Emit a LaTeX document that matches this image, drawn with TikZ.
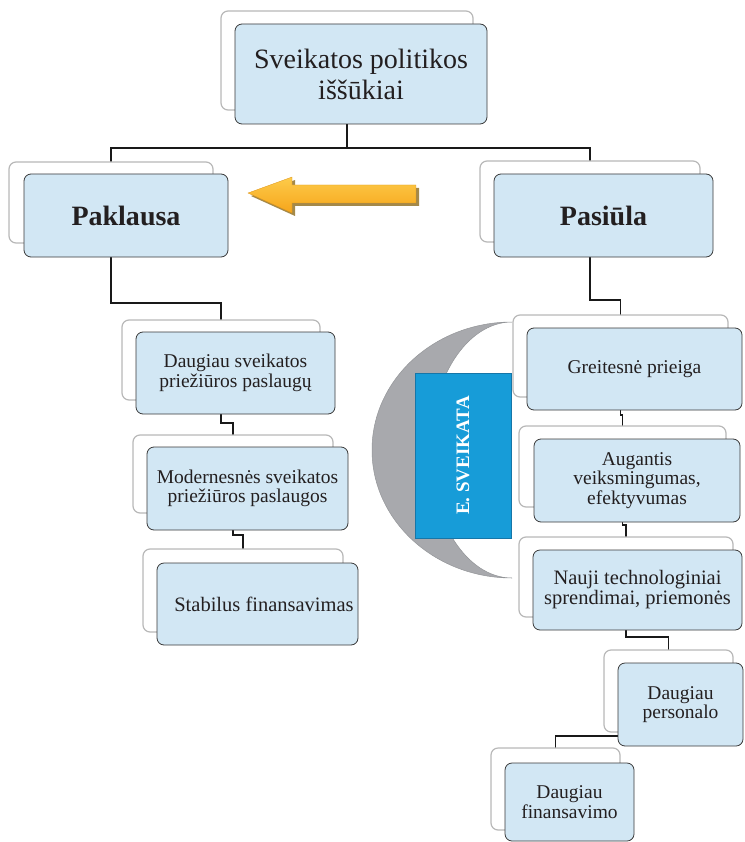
\documentclass[tikz,border=0pt]{standalone}
\usepackage{fontspec}
\setmainfont{Liberation Serif}
\usetikzlibrary{backgrounds}

\definecolor{frontfill}{HTML}{D2E7F4}
\definecolor{frontline}{HTML}{3A3A3A}
\definecolor{backline}{HTML}{B8B8B8}
\definecolor{inkcol}{HTML}{231F20}
\definecolor{crescent}{HTML}{A8A9AD}
\definecolor{crescentline}{HTML}{939598}
\definecolor{ehealth}{HTML}{179CD8}
\definecolor{ehealthline}{HTML}{1676A8}
\definecolor{arrowtop}{HTML}{FDCB4A}
\definecolor{arrowbot}{HTML}{F6A51B}
\definecolor{arrowshadow}{HTML}{94742A}

\tikzset{
  backbox/.style={draw=backline, fill=white, line width=1.2pt, rounded corners=7pt,
    inner sep=0pt, outer sep=0pt},
  frontbox/.style={draw=frontline, fill=frontfill, line width=0.8pt, rounded corners=7pt,
    inner sep=0pt, outer sep=0pt, align=center, text=inkcol,
    font=\fontsize{19.5}{19.5}\selectfont},
  headbox/.style={frontbox, font=\bfseries\fontsize{28}{30}\selectfont},
  conn/.style={draw=black!90, line width=1.3pt},
}

\begin{document}
\begin{tikzpicture}[x=1pt, y=-1pt]
\useasboundingbox (0,0) rectangle (744,842);

% crescent behind the supply column
\filldraw[fill=crescent, draw=crescentline, line width=0.5pt]
  (512,322) arc[start angle=270, end angle=90, x radius=140, y radius=128]
  arc[start angle=90, end angle=270, x radius=82, y radius=128] -- cycle;

% back frames
\node[backbox, minimum width=252pt, minimum height=99pt] (topb) at (347,60.5) {};
\node[backbox, minimum width=204pt, minimum height=81pt] (pakb) at (111,202.5) {};
\node[backbox, minimum width=220pt, minimum height=81pt] (pasb) at (590,201.5) {};
\node[backbox, minimum width=198pt, minimum height=80pt] (c1b) at (221,360) {};
\node[backbox, minimum width=200pt, minimum height=78pt] (c2b) at (233,474) {};
\node[backbox, minimum width=200pt, minimum height=83pt] (c3b) at (243,590.5) {};
\node[backbox, minimum width=215pt, minimum height=82pt] (grb) at (620.5,356) {};
\node[backbox, minimum width=207pt, minimum height=81pt] (aub) at (622.5,466.5) {};
\node[backbox, minimum width=214pt, minimum height=80pt] (nab) at (626,577) {};
\node[backbox, minimum width=129pt, minimum height=82pt] (peb) at (668.5,691) {};
\node[backbox, minimum width=129pt, minimum height=82pt] (fib) at (555.5,789) {};

% front boxes
\node[frontbox, minimum width=252pt, minimum height=100pt,
  font=\fontsize{28}{31}\selectfont] (top) at (361,74) {Sveikatos politikos\\iššūkiai};
\node[headbox, minimum width=204pt, minimum height=83pt] (pak) at (126,215.5) {Paklausa};
\node[headbox, minimum width=219pt, minimum height=83pt] (pas) at (603.5,215.5) {Pasiūla};
\node[frontbox, minimum width=199pt, minimum height=82pt] (c1) at (235.5,373)
  {Daugiau sveikatos\\priežiūros paslaugų};
\node[frontbox, minimum width=201pt, minimum height=83pt] (c2) at (247.5,488.5)
  {Modernesnės sveikatos\\priežiūros paslaugos};
\node[frontbox, minimum width=201pt, minimum height=82pt] (c3) at (257.5,604)
  {\hspace*{13pt}\fontsize{20.5}{20}\selectfont Stabilus finansavimas};
\node[frontbox, minimum width=215pt, minimum height=82pt] (gr) at (634.5,369)
  {Greitesnė prieiga};
\node[frontbox, minimum width=206pt, minimum height=83pt] (au) at (637,480.5)
  {Augantis\\veiksmingumas,\\efektyvumas};
\node[frontbox, minimum width=209pt, minimum height=80pt,
  font=\fontsize{20.5}{20}\selectfont] (na) at (637.5,590)
  {Nauji technologiniai\\sprendimai, priemonės};
\node[frontbox, minimum width=125pt, minimum height=83pt] (pe) at (680.5,704.5)
  {Daugiau\\personalo};
\node[frontbox, minimum width=129pt, minimum height=78pt] (fi) at (569.5,802)
  {Daugiau\\finansavimo};

% e-health label
\node[draw=ehealthline, fill=ehealth, line width=0.8pt, minimum width=96pt,
  minimum height=165pt, inner sep=0pt, text=white,
  font=\bfseries\fontsize{19}{19}\selectfont] (eh) at (463,455.5)
  {\rotatebox{90}{E. SVEIKATA}};

% orange arrow pointing to the demand side
\fill[arrowshadow, opacity=0.85]
  (251,196) -- (295,180) -- (295,188) -- (419,188) -- (419,206)
  -- (295,206) -- (295,216) -- cycle;
\shade[top color=arrowtop, bottom color=arrowbot, draw=arrowbot!90!black, line width=0.3pt]
  (248,193) -- (292,177) -- (292,185) -- (416,185) -- (416,203)
  -- (292,203) -- (292,213) -- cycle;

% connectors
\begin{scope}[on background layer]
\draw[conn] (topb.south) -- ++(0,38) -| (pakb.north);
\draw[conn] (topb.south) -- ++(0,38) -| (pasb.north);
\draw[conn] (pakb.south) -- ++(0,60) -| (c1b.north);
\draw[conn] (c1b.south) -- ++(0,23) -| (c2b.north);
\draw[conn] (c2b.south) -- ++(0,22) -| (c3b.north);
\draw[conn] (pasb.south) -- ++(0,58) -| (grb.north);
\draw[conn] (grb.south) -- ++(0,18) -| (aub.north);
\draw[conn] (aub.south) -- ++(0,18) -| (nab.north);
\draw[conn] (nab.south) -- ++(0,20) -| (peb.north);
\draw[conn] (peb.south) -- ++(0,4) -| (fib.north);
\end{scope}
\end{tikzpicture}
\end{document}
